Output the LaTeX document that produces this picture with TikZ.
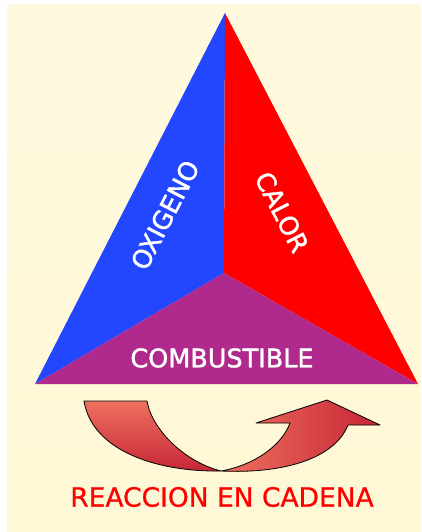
\documentclass[tikz,border=0pt]{standalone}
\usepackage{tikz}
\usetikzlibrary{shapes,arrows.meta,positioning,calc}
\usepackage{xcolor}
\usepackage{fontspec}
\newfontfamily\labelfont[FakeBold=1.6]{DejaVu Sans}
\newfontfamily\chainfont[FakeBold=0.8]{DejaVu Sans}
\definecolor{paper}{HTML}{FFF8D6}
\definecolor{paperlight}{HTML}{FFFADF}
\definecolor{oxblue}{HTML}{2346FF}
\definecolor{heatred}{HTML}{FF0000}
\definecolor{fuelpurple}{HTML}{B02A8E}
\definecolor{arrowlight}{HTML}{EE705F}
\definecolor{arrowdark}{HTML}{C62636}

\begin{document}
\begin{tikzpicture}[x=1pt, y=-1pt,
  label/.style={text=white, font=\labelfont\fontsize{25.5}{25.5}\selectfont, inner sep=0pt},
  chain/.style={draw=black, line width=0.8pt, line join=round}]
  \useasboundingbox (0,0) rectangle (421,532);
  \shade[top color=paperlight, bottom color=paper] (7,5) rectangle (421,532);
  \coordinate (top) at (225,13);
  \coordinate (mid) at (224,273);
  \coordinate (bl) at (35,384);
  \coordinate (br) at (418,384);
  \fill[oxblue] (top) -- (mid) -- (bl) -- cycle;
  \fill[heatred] (top) -- (mid) -- (br) -- cycle;
  \fill[fuelpurple] (mid) -- (bl) -- (br) -- cycle;
  \node[label, rotate=62.8] (oxigeno) at (165,215) {OXIGENO};
  \node[label, rotate=-62.8] (calor) at (282,212) {CALOR};
  \node[label] (combustible) at (222,358) {COMBUSTIBLE};
  \shadedraw[chain, top color=arrowlight, bottom color=arrowdark]
    (84,401) -- (147,401) .. controls (152,430) and (185,462) .. (221,471)
    .. controls (155,472) and (92,450) .. cycle;
  \shadedraw[chain, left color=arrowlight, right color=arrowdark]
    (221,471) .. controls (255,465) and (282,445) .. (290,423)
    -- (256,423) -- (327,400) -- (380,425) -- (348,425)
    .. controls (335,458) and (285,474) .. cycle;
  \node[text=heatred, font=\chainfont\fontsize{26.5}{26.5}\selectfont] (reaccion) at (222,497) {REACCION EN CADENA};
\end{tikzpicture}
\end{document}
